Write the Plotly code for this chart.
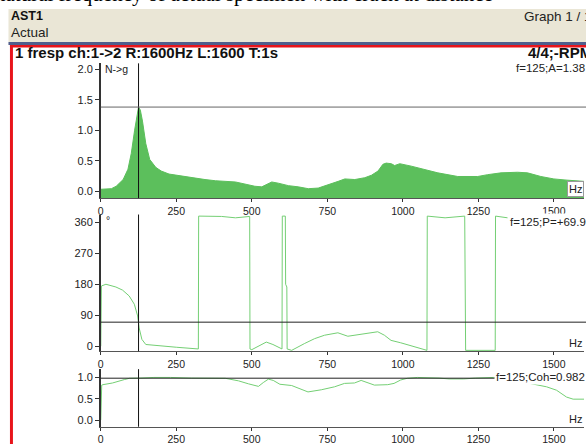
import plotly.graph_objects as go

W, H = 586, 445

# ---------------- data ----------------
mag_freq = [0, 20, 35, 51, 74, 90, 101, 112, 120, 125, 131, 138, 149, 162, 182, 200, 226, 260, 292,
            345, 380, 446, 470, 510, 533, 549, 566, 588, 621, 654, 687, 720, 753, 786, 808, 841, 874,
            896, 918, 934, 945, 962, 973, 990, 1028, 1072, 1116, 1182, 1248, 1281, 1325, 1380, 1413,
            1457, 1500, 1544, 1600]
mag_val = [0.03, 0.03, 0.04, 0.08, 0.19, 0.36, 0.62, 1.00, 1.28, 1.38, 1.33, 1.15, 0.78, 0.52, 0.39,
           0.33, 0.28, 0.25, 0.23, 0.19, 0.17, 0.15, 0.12, 0.08, 0.07, 0.11, 0.15, 0.13, 0.09, 0.07,
           0.04, 0.05, 0.10, 0.16, 0.20, 0.19, 0.22, 0.26, 0.33, 0.44, 0.46, 0.45, 0.42, 0.45, 0.41,
           0.36, 0.30, 0.24, 0.24, 0.27, 0.30, 0.31, 0.30, 0.24, 0.20, 0.18, 0.16]

phase_freq = [0, 2, 17, 50, 72, 94, 111, 122, 127, 136, 149, 180, 250, 323, 324, 400, 446, 493, 494,
              500, 520, 548, 570, 600, 601, 611, 612, 616, 617, 632, 675, 708, 741, 785, 818, 851, 884,
              917, 939, 961, 993, 1037, 1080, 1081, 1140, 1205, 1206, 1207, 1208, 1306, 1307, 1355,
              1400, 1600]
phase_val = [0, 175, 180, 172, 163, 146, 122, 88, 53, 20, 5, 2, -3, -8, 378, 377, 373, 377, -8,
             -10, 0, 12, 5, -8, 378, 378, 180, 172, -8, -12, 8, 22, 32, 39, 29, 34, 37,
             42, 32, 17, 10, -2, -12, 378, 373, 378, 182, 175, -12, -12, 378, 372,
             368, 360]

coh_freq = [0, 3, 7, 39, 78, 95, 130, 176, 231, 300, 412, 456, 489, 522, 538, 555, 571, 593, 632,
            664, 686, 730, 774, 807, 840, 862, 884, 906, 950, 971, 993, 1015, 1048, 1092, 1120, 1153,
            1202, 1240, 1284, 1300, 1350, 1421, 1476, 1509, 1542, 1564, 1600]
coh_val = [0, 0.82, 0.83, 0.87, 0.95, 0.98, 0.985, 1.0, 1.0, 0.985, 0.98, 0.92, 0.85, 0.79, 0.88,
           0.96, 0.93, 0.84, 0.81, 0.73, 0.66, 0.71, 0.78, 0.86, 0.87, 0.93, 0.88, 0.82, 0.83, 0.86,
           0.94, 0.98, 1.0, 1.0, 0.985, 0.965, 0.965, 0.985, 1.0, 1.0, 0.96, 0.86, 0.78, 0.70, 0.54,
           0.49, 0.49]

cursor_freq = 125
cursor_mag = 1.38
cursor_phase = 69.9
cursor_coh = 0.982

x_ticks = [0, 250, 500, 750, 1000, 1250, 1500]
mag_ticks = [0.0, 0.5, 1.0, 1.5, 2.0]
phase_ticks = [0, 90, 180, 270, 360]
coh_ticks = [0.0, 0.5, 1.0]

# ---------------- helpers ----------------
def px(x):
    return x / W


def py(y):
    return 1 - y / H


FONT = "Liberation Sans, Arial, sans-serif"
GREEN_FILL = "#5CBF5C"
GREEN_LINE = "#74CF74"

mag_range = [-0.114, 2.098]
phase_range = [-14.5, 382.6]
coh_range = [-0.157, 1.194]
x_range = [0, 1600]

fig = go.Figure()

# magnitude (filled to the bottom of the panel)
fig.add_trace(go.Scatter(x=mag_freq, y=[mag_range[0]] * len(mag_freq), mode="lines",
                         line=dict(width=0, color=GREEN_FILL), hoverinfo="skip",
                         showlegend=False, xaxis="x", yaxis="y"))
fig.add_trace(go.Scatter(x=mag_freq, y=mag_val, mode="lines", fill="tonexty",
                         fillcolor=GREEN_FILL, line=dict(width=1, color=GREEN_FILL),
                         showlegend=False, xaxis="x", yaxis="y"))
# phase
fig.add_trace(go.Scatter(x=phase_freq, y=phase_val, mode="lines",
                         line=dict(width=1, color=GREEN_LINE),
                         showlegend=False, xaxis="x2", yaxis="y2"))
# coherence
fig.add_trace(go.Scatter(x=coh_freq, y=coh_val, mode="lines",
                         line=dict(width=1, color=GREEN_LINE),
                         showlegend=False, xaxis="x3", yaxis="y3"))

xdom = [px(98.3), px(584)]
panels = {
    "1": dict(dom=[py(198.5), py(63.5)], rng=mag_range, ticks=mag_ticks,
              text=[f"{v:.1f}" for v in mag_ticks]),
    "2": dict(dom=[py(352), py(215)], rng=phase_range, ticks=phase_ticks,
              text=[str(v) for v in phase_ticks]),
    "3": dict(dom=[py(427.7), py(370)], rng=coh_range, ticks=coh_ticks,
              text=[f"{v:.1f}" for v in coh_ticks]),
}

layout_axes = {}
for k, p in panels.items():
    xa = "xaxis" if k == "1" else f"xaxis{k}"
    ya = "yaxis" if k == "1" else f"yaxis{k}"
    yid = "y" if k == "1" else f"y{k}"
    xid = "x" if k == "1" else f"x{k}"
    layout_axes[xa] = dict(domain=xdom, range=x_range, anchor=yid, tickvals=x_ticks,
                           ticks="outside", ticklen=3, tickcolor="#333", showline=True,
                           linecolor="#555", linewidth=1, showgrid=False, zeroline=False,
                           tickfont=dict(family=FONT, size=10.5, color="#222"))
    layout_axes[ya] = dict(domain=p["dom"], range=p["rng"], anchor=xid, tickvals=p["ticks"],
                           ticktext=p["text"], ticks="outside", ticklen=4, tickcolor="#333",
                           showline=True, linecolor="#333", linewidth=1.5, showgrid=False,
                           zeroline=False, tickfont=dict(family=FONT, size=11, color="#222"))

shapes = []
# document header elements
shapes.append(dict(type="rect", xref="paper", yref="paper", x0=px(5.5), x1=1, y0=py(42), y1=py(9),
                   fillcolor="#EAE6D6", line=dict(width=0), layer="below"))
shapes.append(dict(type="rect", xref="paper", yref="paper", x0=px(5.5), x1=1, y0=py(45), y1=py(42),
                   fillcolor="#505E8C", line=dict(width=0), layer="below"))
shapes.append(dict(type="rect", xref="paper", yref="paper", x0=px(7), x1=1, y0=py(47.5), y1=py(45),
                   fillcolor="#E8141B", line=dict(width=0), layer="below"))
shapes.append(dict(type="rect", xref="paper", yref="paper", x0=px(7), x1=px(10), y0=0, y1=py(45),
                   fillcolor="#E8141B", line=dict(width=0), layer="below"))

# cursor lines
for xid, yid, yval, col in [("x", "y", cursor_mag, "#666666"), ("x2", "y2", cursor_phase, "#222222"),
                            ("x3", "y3", cursor_coh, "#222222")]:
    shapes.append(dict(type="line", xref=xid, yref=f"{yid} domain", x0=cursor_freq, x1=cursor_freq,
                       y0=0, y1=1, line=dict(color="#111111", width=1)))
    shapes.append(dict(type="line", xref="paper", yref=yid, x0=px(98.3), x1=px(586), y0=yval, y1=yval,
                       line=dict(color=col, width=1)))

annotations = []


def ann(text, x, y, size, bold=False, xanchor="left", family=FONT, color="#111", **kw):
    t = f"<b>{text}</b>" if bold else text
    d = dict(text=t, xref="paper", yref="paper", x=px(x), y=py(y), xanchor=xanchor,
             yanchor="middle", showarrow=False, font=dict(family=family, size=size, color=color))
    d.update(kw)
    annotations.append(d)


ann("natural frequency of actual specimen with crack at distance", -10.5, -6, 21,
    family="Liberation Serif, Times New Roman, serif", color="#000")
ann("AST1", 6.5, 16, 12.5, bold=True)
ann("Actual", 6.5, 32.5, 13.5, color="#222")
ann("Graph 1 / 1", 522, 16.5, 13.5, color="#222")
ann("1 fresp ch:1->2 R:1600Hz L:1600 T:1s", 10.5, 53, 15, bold=True)
ann("4/4;-RPM", 526, 53, 15, bold=True)

ann("N-&gt;g", 100.5, 69.5, 10.5, color="#222")
ann("°", 101.5, 220, 10.5, color="#222")

ann("f=125;A=1.38", 514, 68, 11.5, color="#222")
ann("f=125;P=+69.9", 507, 222, 11.5, color="#222", bgcolor="white", borderpad=2)
ann("f=125;Coh=0.982", 494, 378, 11.5, color="#222", bgcolor="white", borderpad=1)

ann("Hz", 583.5, 189, 11, xanchor="right", color="#222", bgcolor="white",
    bordercolor="#999", borderwidth=1, borderpad=1)
ann("Hz", 583.5, 343.5, 11, xanchor="right", color="#222")
ann("Hz", 583.5, 419.5, 11, xanchor="right", color="#222")

fig.update_layout(
    width=W, height=H,
    margin=dict(l=0, r=0, t=0, b=0, pad=0),
    paper_bgcolor="white", plot_bgcolor="white",
    showlegend=False,
    shapes=shapes,
    annotations=annotations,
    **layout_axes,
)

fig.write_html("out.html", config={"displayModeBar": False},
               post_script="document.body.style.margin='0';document.body.style.overflow='hidden';")
